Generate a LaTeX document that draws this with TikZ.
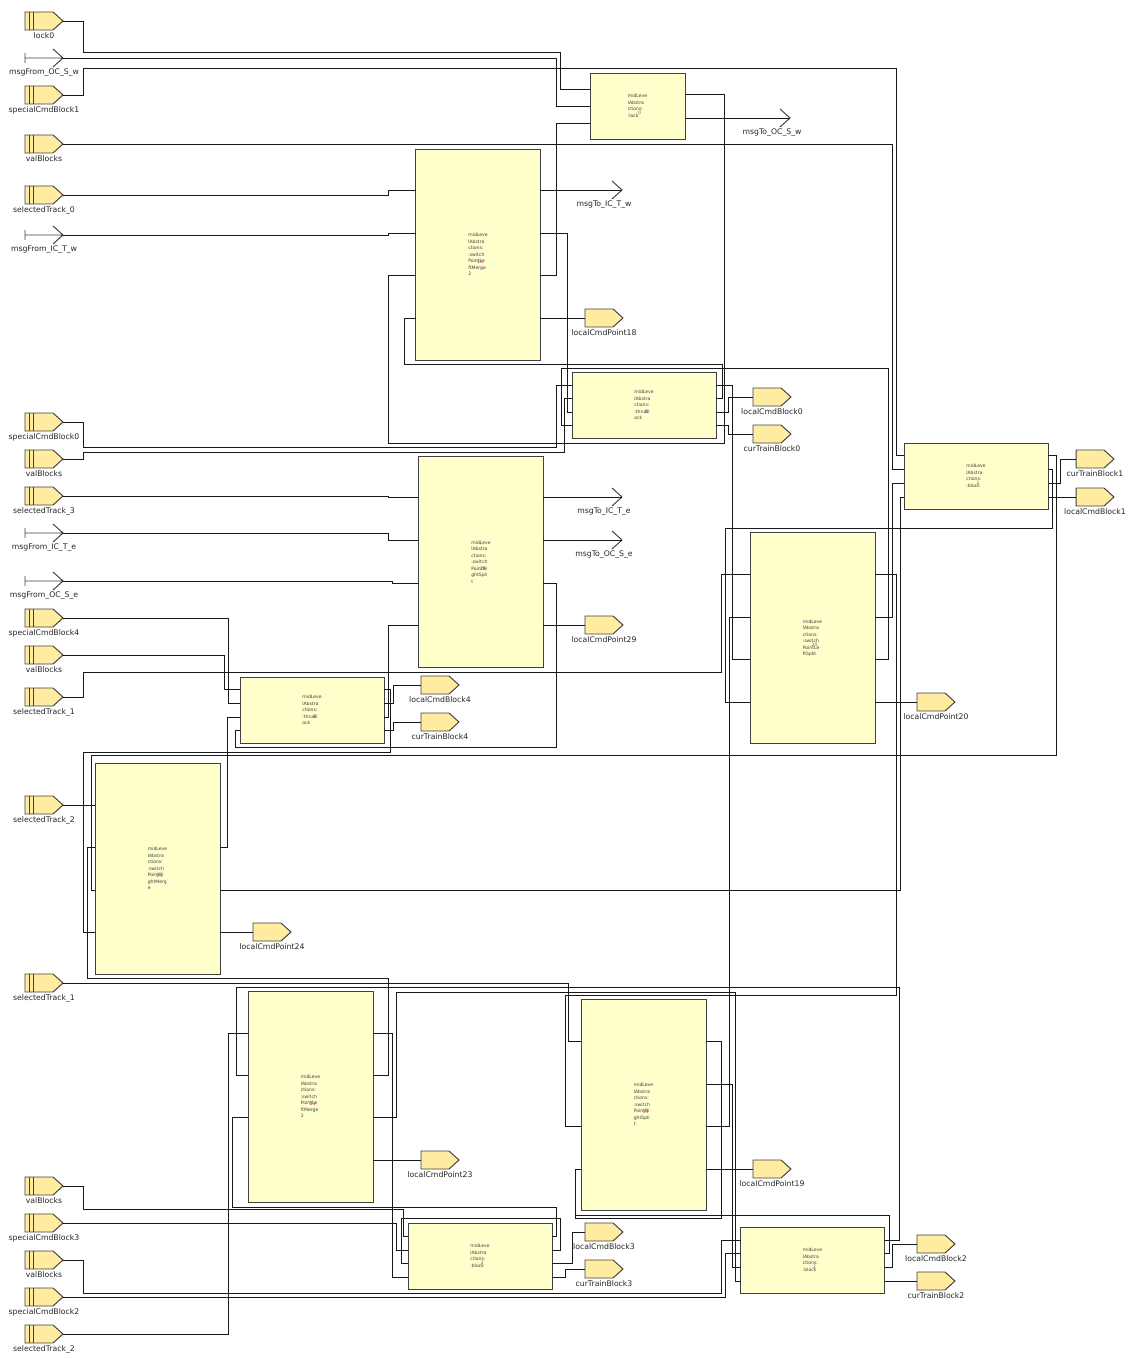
\documentclass[tikz,border=0pt]{standalone}
\usepackage{fontspec}
\setmainfont{DejaVu Sans}
\usetikzlibrary{positioning,calc}

\definecolor{blockfill}{RGB}{255,255,204}
\definecolor{portfill}{RGB}{255,236,160}
\definecolor{instpink}{RGB}{190,60,150}

% data input port: name, y, label
\newcommand{\inport}[3]{%
  \draw[portedge, fill=portfill] (25,#2-9) -- (53,#2-9) -- (63,#2) -- (53,#2+9) -- (25,#2+9) -- cycle;
  \draw[portedge] (29,#2-9) -- (29,#2+9) (33,#2-9) -- (33,#2+9);
  \coordinate (#1) at (63,#2);
  \node[portlabel] at (44,#2+15) {#3};
}
% message input port: name, y, label
\newcommand{\msgin}[3]{%
  \draw[portedge] (25,#2-5) -- (25,#2+5) (25,#2) -- (63,#2) (53,#2-9) -- (63,#2) -- (53,#2+9);
  \coordinate (#1) at (63,#2);
  \node[portlabel] at (44,#2+15) {#3};
}
% data output port: name, left x, y, label
\newcommand{\outport}[4]{%
  \draw[portedge, fill=portfill] (#2,#3-9) -- (#2+28,#3-9) -- (#2+38,#3) -- (#2+28,#3+9) -- (#2,#3+9) -- cycle;
  \coordinate (#1) at (#2,#3);
  \node[portlabel] at (#2+19,#3+15) {#4};
}
% message output port: name, tip x, y, label
\newcommand{\msgout}[4]{%
  \draw[portedge] (#2-10,#3-9) -- (#2,#3) -- (#2-10,#3+9);
  \coordinate (#1) at (#2,#3);
  \node[portlabel] at (#2-18,#3+15) {#4};
}
% pins of a block: name, left x, right x, list of y
\newcommand{\pins}[4]{%
  \foreach \yy [count=\k] in {#4} {
    \coordinate (#1-i\k) at (#2,\yy);
    \coordinate (#1-o\k) at (#3,\yy);
  }
}

\begin{document}
\begin{tikzpicture}[
    x=0.02cm, y=-0.02cm,
    wire/.style={draw=black!90, line width=0.55pt},
    portedge/.style={draw=black!75, line width=0.55pt},
    portlabel/.style={font=\fontsize{4.4}{5}\selectfont, text=black!85},
    blockbox/.style={rectangle, draw=black!75, fill=blockfill, line width=0.5pt, inner sep=0pt, align=left, font=\fontsize{2.6}{3.7}\selectfont, text=black!75},
    swblock/.style={blockbox, minimum width=2.5cm, minimum height=4.22cm},
    thrblock/.style={blockbox, minimum width=2.88cm, minimum height=1.32cm},
    lockblock/.style={blockbox, minimum width=1.9cm, minimum height=1.32cm},
    instnum/.style={font=\fontsize{2.6}{3}\selectfont, text=instpink, inner sep=0pt}
]
\useasboundingbox (0,0) rectangle (1133,1358);

% ---- blocks
\node[lockblock] (lock) at (637.5,106) {midLeve\\lAbstra\\ctions:\\:lock};
\node[swblock] (sw18) at (478,254.5) {midLeve\\lAbstra\\ctions:\\:switch\\PointLe\\ftMerge\\2};
\node[thrblock] (thr0) at (644,405) {midLeve\\lAbstra\\ctions:\\:thruBl\\ock};
\node[thrblock] (blk1) at (976,476) {midLeve\\lAbstra\\ctions:\\:block};
\node[swblock] (sw29) at (481,562) {midLeve\\lAbstra\\ctions:\\:switch\\PointRi\\ghtSpli\\t};
\node[swblock] (sw20) at (812.5,638) {midLeve\\lAbstra\\ctions:\\:switch\\PointLe\\ftSplit};
\node[thrblock] (thr4) at (312,710) {midLeve\\lAbstra\\ctions:\\:thruBl\\ock};
\node[swblock] (sw24) at (157.5,868.5) {midLeve\\lAbstra\\ctions:\\:switch\\PointRi\\ghtMerg\\e};
\node[swblock] (sw23) at (310.5,1096.5) {midLeve\\lAbstra\\ctions:\\:switch\\PointLe\\ftMerge\\2};
\node[swblock] (sw19) at (643.5,1104.5) {midLeve\\lAbstra\\ctions:\\:switch\\PointRi\\ghtSpli\\t};
\node[thrblock] (blk3) at (480,1256) {midLeve\\lAbstra\\ctions:\\:block};
\node[thrblock] (blk2) at (812.5,1260) {midLeve\\lAbstra\\ctions:\\:block};

\foreach \b/\n in {lock/0, sw18/18, thr0/0, blk1/1, sw29/29, sw20/20, thr4/4, sw24/24, sw23/23, sw19/19, blk3/3, blk2/2}
  \node[instnum] at ($(\b)+(2,7)$) {\n};

\pins{lock}{590}{685}{89,106,123}
\coordinate (lock-o1) at (685,94);
\coordinate (lock-o2) at (685,118);
\pins{sw18}{416}{540}{190,233,275,318}
\pins{thr0}{572}{716}{385,398,412,425}
\pins{blk1}{904}{1048}{455,469,483,497}
\pins{sw29}{419}{543}{497,540,583,625}
\pins{sw20}{750}{875}{574,617,659,702}
\pins{thr4}{240}{384}{689,703,717,730}
\pins{sw24}{95}{220}{805,847,890,932}
\pins{sw23}{248}{373}{1033,1075,1117,1160}
\pins{sw19}{581}{706}{1041,1084,1126,1169}
\pins{blk3}{408}{552}{1236,1250,1263,1277}
\pins{blk2}{741}{885}{1240,1253,1267,1281}

% ---- input ports
\inport{inLock0}{21}{lock0}
\msgin{inMsgOCSw}{58}{msgFrom\_OC\_S\_w}
\inport{inSpecial1}{95}{specialCmdBlock1}
\inport{inValA}{144}{valBlocks}
\inport{inTrack0}{195}{selectedTrack\_0}
\msgin{inMsgICTw}{235}{msgFrom\_IC\_T\_w}
\inport{inSpecial0}{422}{specialCmdBlock0}
\inport{inValB}{459}{valBlocks}
\inport{inTrack3}{496}{selectedTrack\_3}
\msgin{inMsgICTe}{533}{msgFrom\_IC\_T\_e}
\msgin{inMsgOCSe}{581}{msgFrom\_OC\_S\_e}
\inport{inSpecial4}{618}{specialCmdBlock4}
\inport{inValC}{655}{valBlocks}
\inport{inTrack1A}{697}{selectedTrack\_1}
\inport{inTrack2A}{805}{selectedTrack\_2}
\inport{inTrack1B}{983}{selectedTrack\_1}
\inport{inValD}{1186}{valBlocks}
\inport{inSpecial3}{1223}{specialCmdBlock3}
\inport{inValE}{1260}{valBlocks}
\inport{inSpecial2}{1297}{specialCmdBlock2}
\inport{inTrack2B}{1334}{selectedTrack\_2}

% ---- output ports
\msgout{outMsgOCSw}{790}{118}{msgTo\_OC\_S\_w}
\msgout{outMsgICTw}{622}{190}{msgTo\_IC\_T\_w}
\outport{outPoint18}{585}{318}{localCmdPoint18}
\outport{outCmd0}{753}{397}{localCmdBlock0}
\outport{outTrain0}{753}{434}{curTrainBlock0}
\outport{outTrain1}{1076}{459}{curTrainBlock1}
\outport{outCmd1}{1076}{497}{localCmdBlock1}
\msgout{outMsgICTe}{622}{497}{msgTo\_IC\_T\_e}
\msgout{outMsgOCSe}{622}{540}{msgTo\_OC\_S\_e}
\outport{outPoint29}{585}{625}{localCmdPoint29}
\outport{outCmd4}{421}{685}{localCmdBlock4}
\outport{outTrain4}{421}{722}{curTrainBlock4}
\outport{outPoint20}{917}{702}{localCmdPoint20}
\outport{outPoint24}{253}{932}{localCmdPoint24}
\outport{outPoint23}{421}{1160}{localCmdPoint23}
\outport{outPoint19}{753}{1169}{localCmdPoint19}
\outport{outCmd3}{585}{1232}{localCmdBlock3}
\outport{outTrain3}{585}{1269}{curTrainBlock3}
\outport{outCmd2}{917}{1244}{localCmdBlock2}
\outport{outTrain2}{917}{1281}{curTrainBlock2}

% ---- wires, top
\draw[wire] (inLock0) -| (83,52) -- (560,52) |- (lock-i1);
\draw[wire] (inMsgOCSw) -- (556,58) |- (lock-i2);
\draw[wire] (inSpecial1) -| (83,68) -- (896,68) |- (blk1-i1);
\draw[wire] (inValA) -- (892,144) |- (blk1-i2);
\draw[wire] (inTrack0) -- (388,195) |- (sw18-i1);
\draw[wire] (inMsgICTw) -- (388,235) |- (sw18-i2);
\draw[wire] (lock-o1) -- (724,94) -- (724,443) -- (388,443) |- (sw18-i3);
\draw[wire] (lock-o2) -- (outMsgOCSw);
\draw[wire] (sw18-o1) -- (outMsgICTw);
\draw[wire] (sw18-o2) -- (567,233) |- (thr0-i3);
\draw[wire] (sw18-o3) -- (556,275) |- (lock-i3);
\draw[wire] (sw18-o4) -- (outPoint18);
\draw[wire] (thr0-o2) -- (722,398) |- (404,364) |- (sw18-i4);
\draw[wire] (inSpecial0) -| (83,447) -- (556,447) |- (thr0-i1);
\draw[wire] (inValB) -| (83,452) -- (564,452) |- (thr0-i2);
\draw[wire] (sw20-o3) -- (888,659) |- (561,368) |- (thr0-i4);
\draw[wire] (thr0-o1) -- (732,385) |- (sw20-i3);
\draw[wire] (thr0-o3) -- (728,412) |- (outCmd0);
\draw[wire] (thr0-o4) -- (728,425) |- (outTrain0);
\draw[wire] (blk1-o3) -- (1060,483) |- (outTrain1);
\draw[wire] (blk1-o4) -- (outCmd1);
\draw[wire] (blk1-o1) -- (1056,455) |- (91,755) |- (sw24-i3);
\draw[wire] (blk1-o2) -- (1052,469) |- (725,528) |- (sw20-i4);
\draw[wire] (inTrack1A) -| (83,672) -- (721,672) |- (sw20-i1);
\draw[wire] (sw20-o2) -- (892,617) |- (blk1-i3);
\draw[wire] (sw20-o4) -- (outPoint20);
\draw[wire] (sw24-o3) -- (900,890) |- (blk1-i4);
\draw[wire] (sw20-o1) -- (896,574) |- (565,995) |- (sw19-i3);

% ---- wires, middle
\draw[wire] (inTrack3) -- (388,496) |- (sw29-i1);
\draw[wire] (inMsgICTe) -- (388,533) |- (sw29-i2);
\draw[wire] (inMsgOCSe) -- (392,581) |- (sw29-i3);
\draw[wire] (sw29-o1) -- (outMsgICTe);
\draw[wire] (sw29-o2) -- (outMsgOCSe);
\draw[wire] (sw29-o3) -- (556,583) |- (235,747) |- (thr4-i4);
\draw[wire] (sw29-o4) -- (outPoint29);
\draw[wire] (inSpecial4) -- (228,618) |- (thr4-i2);
\draw[wire] (inValC) -- (224,655) |- (thr4-i1);
\draw[wire] (sw24-o2) -- (227,847) |- (thr4-i3);
\draw[wire] (thr4-o2) -- (393,703) |- (outCmd4);
\draw[wire] (thr4-o4) -- (393,730) |- (outTrain4);
\draw[wire] (thr4-o3) -- (388,717) |- (sw29-i4);
\draw[wire] (thr4-o1) -- (390,689) |- (83,752) |- (sw24-i4);
\draw[wire] (inTrack2A) -- (sw24-i1);
\draw[wire] (sw24-o4) -- (outPoint24);

% ---- wires, bottom
\draw[wire] (inTrack2B) -- (228,1334) |- (sw23-i1);
\draw[wire] (blk2-o1) -- (899,1240) |- (236,987) |- (sw23-i2);
\draw[wire] (inTrack1B) -- (568,983) |- (sw19-i1);
\draw[wire] (sw23-o1) -- (392,1033) |- (blk3-i4);
\draw[wire] (sw23-o2) -- (388,1075) |- (87,978) |- (sw24-i2);
\draw[wire] (sw23-o3) -- (396,1117) |- (735,992) |- (blk2-i4);
\draw[wire] (sw23-o4) -- (outPoint23);
\draw[wire] (inValD) -| (83,1209) -- (403,1209) |- (blk3-i1);
\draw[wire] (inSpecial3) -- (396,1223) |- (blk3-i2);
\draw[wire] (blk3-o2) -- (560,1250) |- (401,1218) |- (blk3-i3);
\draw[wire] (blk3-o3) -- (572,1263) |- (outCmd3);
\draw[wire] (blk3-o4) -- (565,1277) |- (outTrain3);
\draw[wire] (blk3-o1) -- (556,1236) |- (232,1207) |- (sw23-i3);
\draw[wire] (inValE) -| (83,1293) -- (721,1293) |- (blk2-i1);
\draw[wire] (inSpecial2) -- (725,1297) |- (blk2-i2);
\draw[wire] (blk2-o3) -- (892,1267) |- (outCmd2);
\draw[wire] (blk2-o4) -- (outTrain2);
\draw[wire] (sw19-o1) -- (721,1041) |- (575,1218) |- (sw19-i4);
\draw[wire] (blk2-o2) -- (889,1253) |- (575,1215);
\draw[wire] (sw19-o2) -- (732,1084) |- (blk2-i3);
\draw[wire] (sw19-o3) -- (729,1126) |- (sw20-i2);
\draw[wire] (sw19-o4) -- (outPoint19);
\end{tikzpicture}
\end{document}
